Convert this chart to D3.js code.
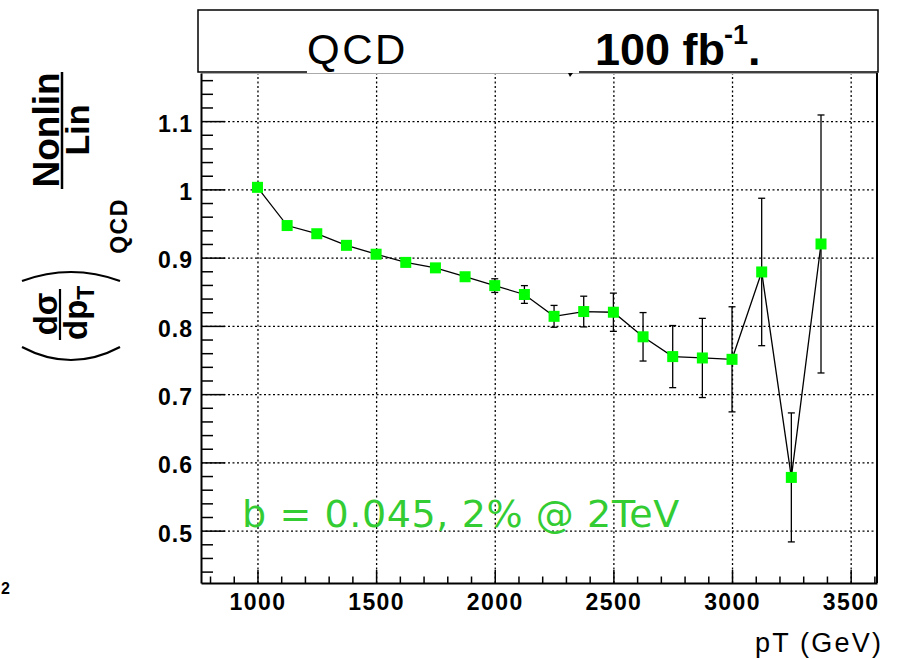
<!DOCTYPE html>
<html>
<head>
<meta charset="utf-8">
<script src="https://cdn.jsdelivr.net/npm/d3@7"></script>
<style>
  body { margin: 0; background: #fff; }
  svg { display: block; }
</style>
</head>
<body>
<div id="chart"></div>
<script>
// bin centres (GeV), ratio values and their errors
const pT = [1000, 1125, 1250, 1375, 1500, 1625, 1750, 1875, 2000, 2125,
            2250, 2375, 2500, 2625, 2750, 2875, 3000, 3125, 3250, 3375];
const ratio = [1.003, 0.947, 0.935, 0.918, 0.905, 0.893, 0.885, 0.872, 0.859, 0.846,
               0.814, 0.821, 0.820, 0.784, 0.755, 0.753, 0.751, 0.879, 0.578, 0.920];
const ratioErr = [0.002, 0.003, 0.003, 0.004, 0.004, 0.005, 0.005, 0.006, 0.010, 0.013,
                  0.016, 0.0225, 0.028, 0.0355, 0.0455, 0.058, 0.077, 0.108, 0.0945, 0.189];

const xMajor = [1000, 1500, 2000, 2500, 3000, 3500];
const xTickLabels = ["1000", "1500", "2000", "2500", "3000", "3500"];
const yMajor = [0.5, 0.6, 0.7, 0.8, 0.9, 1.0, 1.1];
const yTickLabels = ["0.5", "0.6", "0.7", "0.8", "0.9", "1", "1.1"];

const W = 899, H = 659;
const frame = {left: 201, right: 877, top: 73, bottom: 583};

const svg = d3.select("#chart")
    .append("svg")
    .attr("width", W)
    .attr("height", H);

const x = d3.scaleLinear().domain([762, 3611]).range([frame.left, frame.right]);
const y = d3.scaleLinear().domain([0.4233, 1.1705]).range([frame.bottom, frame.top]);

const xMinor = d3.range(800, 3601, 100).filter(v => !xMajor.includes(v));
const yMinor = d3.range(44, 117, 2).map(v => v / 100).filter(v => !yMajor.some(m => Math.abs(m - v) < 1e-6));

// dotted grid
svg.append("g")
    .attr("transform", `translate(0, ${frame.bottom})`)
    .call(d3.axisBottom(x).tickValues(xMajor).tickSize(-(frame.bottom - frame.top)).tickFormat(""))
    .call(g => g.select(".domain").remove())
    .selectAll("line")
    .attr("stroke", "#000")
    .attr("stroke-width", 1.3)
    .attr("stroke-dasharray", "2,2.5");

svg.append("g")
    .attr("transform", `translate(${frame.left}, 0)`)
    .call(d3.axisLeft(y).tickValues(yMajor).tickSize(-(frame.right - frame.left)).tickFormat(""))
    .call(g => g.select(".domain").remove())
    .selectAll("line")
    .attr("stroke", "#000")
    .attr("stroke-width", 1.3)
    .attr("stroke-dasharray", "2,2.5");

// frame top and right edge
svg.append("line")
    .attr("x1", frame.left).attr("x2", frame.right)
    .attr("y1", frame.top + 0.5).attr("y2", frame.top + 0.5)
    .attr("stroke", "#aaa").attr("stroke-width", 1);
svg.append("line")
    .attr("x1", frame.right).attr("x2", frame.right)
    .attr("y1", frame.top).attr("y2", frame.bottom)
    .attr("stroke", "#000").attr("stroke-width", 2);

// x axis: minor ticks, then major ticks with labels
svg.append("g")
    .attr("transform", `translate(0, ${frame.bottom})`)
    .call(d3.axisBottom(x).tickValues(xMinor).tickSize(-6.5).tickSizeOuter(0).tickFormat(""))
    .call(g => g.select(".domain").remove())
    .selectAll("line").attr("stroke", "#000").attr("stroke-width", 1.5);

const xAxis = svg.append("g")
    .attr("transform", `translate(0, ${frame.bottom})`)
    .call(d3.axisBottom(x).tickValues(xMajor).tickSize(-13).tickSizeOuter(0).tickPadding(11)
        .tickFormat((d, i) => xTickLabels[i]));
xAxis.select(".domain").attr("stroke", "#000").attr("stroke-width", 2);
xAxis.selectAll("line").attr("stroke", "#000").attr("stroke-width", 1.5);
xAxis.selectAll("text")
    .attr("fill", "#000")
    .style("font-family", "'Liberation Sans', Arial, sans-serif")
    .style("font-weight", "bold")
    .style("font-size", "23px")
    .style("letter-spacing", "1.4px");

// y axis
svg.append("g")
    .attr("transform", `translate(${frame.left}, 0)`)
    .call(d3.axisLeft(y).tickValues(yMinor).tickSize(-12).tickSizeOuter(0).tickFormat(""))
    .call(g => g.select(".domain").remove())
    .selectAll("line").attr("stroke", "#000").attr("stroke-width", 1.5);

const yAxis = svg.append("g")
    .attr("transform", `translate(${frame.left}, 0)`)
    .call(d3.axisLeft(y).tickValues(yMajor).tickSize(-24).tickSizeOuter(0).tickPadding(8)
        .tickFormat((d, i) => yTickLabels[i]));
yAxis.select(".domain").attr("stroke", "#000").attr("stroke-width", 2);
yAxis.selectAll("line").attr("stroke", "#000").attr("stroke-width", 1.5);
yAxis.selectAll("text")
    .attr("fill", "#000")
    .attr("dy", "0.45em")
    .style("font-family", "'Liberation Sans', Arial, sans-serif")
    .style("font-weight", "bold")
    .style("font-size", "23px")
    .style("letter-spacing", "1px");

// data: error bars, connecting line, markers
const pts = pT.map((p, i) => ({x: p, v: ratio[i], e: ratioErr[i]}));

const errG = svg.append("g").attr("stroke", "#000").attr("stroke-width", 1.3);
errG.selectAll(".bar")
    .data(pts)
    .join("line")
    .attr("x1", d => x(d.x)).attr("x2", d => x(d.x))
    .attr("y1", d => y(d.v - d.e)).attr("y2", d => y(d.v + d.e));
errG.selectAll(".capT")
    .data(pts)
    .join("line")
    .attr("x1", d => x(d.x) - 3.5).attr("x2", d => x(d.x) + 3.5)
    .attr("y1", d => y(d.v + d.e)).attr("y2", d => y(d.v + d.e));
errG.selectAll(".capB")
    .data(pts)
    .join("line")
    .attr("x1", d => x(d.x) - 3.5).attr("x2", d => x(d.x) + 3.5)
    .attr("y1", d => y(d.v - d.e)).attr("y2", d => y(d.v - d.e));

svg.append("path")
    .datum(pts)
    .attr("fill", "none")
    .attr("stroke", "#000")
    .attr("stroke-width", 1.3)
    .attr("d", d3.line().x(d => x(d.x)).y(d => y(d.v)));

svg.append("g")
    .selectAll("rect")
    .data(pts)
    .join("rect")
    .attr("x", d => x(d.x) - 5.5)
    .attr("y", d => y(d.v) - 5.5)
    .attr("width", 11)
    .attr("height", 11)
    .attr("fill", "#00ff00");

// green annotation
svg.append("text")
    .attr("x", 242)
    .attr("y", 527)
    .attr("fill", "#33cc33")
    .style("font-family", "'DejaVu Sans', sans-serif")
    .style("font-size", "38px")
    .style("letter-spacing", "0.6px")
    .text("b = 0.045, 2% @ 2TeV");

// title box
svg.append("rect")
    .attr("x", 198).attr("y", 10)
    .attr("width", 680).attr("height", 62)
    .attr("fill", "#fff")
    .attr("stroke", "#000")
    .attr("stroke-width", 1.5);
svg.append("rect")
    .attr("x", 307).attr("y", 62)
    .attr("width", 272).attr("height", 11)
    .attr("fill", "#fff");
svg.append("path")
    .attr("d", "M568,73 L573,73 L570,77 Z")
    .attr("fill", "#000");

svg.append("text")
    .attr("x", 307).attr("y", 64)
    .attr("fill", "#000")
    .style("font-family", "'Liberation Sans', Arial, sans-serif")
    .style("font-size", "42px")
    .style("letter-spacing", "2.5px")
    .text("QCD");

const lumi = svg.append("text")
    .attr("x", 595).attr("y", 65)
    .attr("fill", "#000")
    .style("font-family", "'Liberation Sans', Arial, sans-serif")
    .style("font-weight", "bold")
    .style("font-size", "45px");
lumi.append("tspan").text("100 fb");
lumi.append("tspan").attr("dy", -21).attr("dx", -1).style("font-size", "27px").text("-1");
lumi.append("tspan").attr("dy", 21).text(".");

// x title
svg.append("text")
    .attr("x", 755).attr("y", 652)
    .attr("fill", "#000")
    .style("font-family", "'Liberation Sans', Arial, sans-serif")
    .style("font-size", "27px")
    .style("letter-spacing", "2.2px")
    .text("pT (GeV)");

// small glyph at the left edge
svg.append("text")
    .attr("x", 1).attr("y", 594)
    .attr("fill", "#000")
    .style("font-family", "'Liberation Sans', Arial, sans-serif")
    .style("font-weight", "bold")
    .style("font-size", "16px")
    .text("2");

// y title, rotated: (screenX, screenY) -> (x' = -screenY, y' = screenX)
const yt = svg.append("g")
    .attr("transform", "rotate(-90)")
    .attr("fill", "#000")
    .style("font-family", "'Liberation Sans', Arial, sans-serif")
    .style("font-weight", "bold");

yt.append("text")
    .attr("x", -130).attr("y", 59)
    .attr("text-anchor", "middle")
    .style("font-size", "37px")
    .text("Nonlin");
yt.append("line")
    .attr("x1", -189).attr("x2", -72)
    .attr("y1", 62).attr("y2", 62)
    .attr("stroke", "#000").attr("stroke-width", 2.5);
yt.append("text")
    .attr("x", -130).attr("y", 89)
    .attr("text-anchor", "middle")
    .style("font-size", "34px")
    .text("Lin");

// big parentheses
svg.append("path")
    .attr("d", "M22,347 Q71,373 120,347")
    .attr("fill", "none").attr("stroke", "#000").attr("stroke-width", 2.2);
svg.append("path")
    .attr("d", "M22,281 Q71,263 120,281")
    .attr("fill", "none").attr("stroke", "#000").attr("stroke-width", 2.2);

yt.append("text")
    .attr("x", -314).attr("y", 57)
    .attr("text-anchor", "middle")
    .style("font-size", "33px")
    .text("dσ");
yt.append("line")
    .attr("x1", -340).attr("x2", -289)
    .attr("y1", 60).attr("y2", 60)
    .attr("stroke", "#000").attr("stroke-width", 2.2);
const dp = yt.append("text")
    .attr("x", -340).attr("y", 87)
    .style("font-size", "33px");
dp.append("tspan").text("dp");
dp.append("tspan").attr("dy", 7).style("font-size", "23px").text("T");

yt.append("text")
    .attr("x", -226).attr("y", 127)
    .attr("text-anchor", "middle")
    .style("font-size", "23px")
    .style("letter-spacing", "1.5px")
    .text("QCD");
</script>
</body>
</html>
